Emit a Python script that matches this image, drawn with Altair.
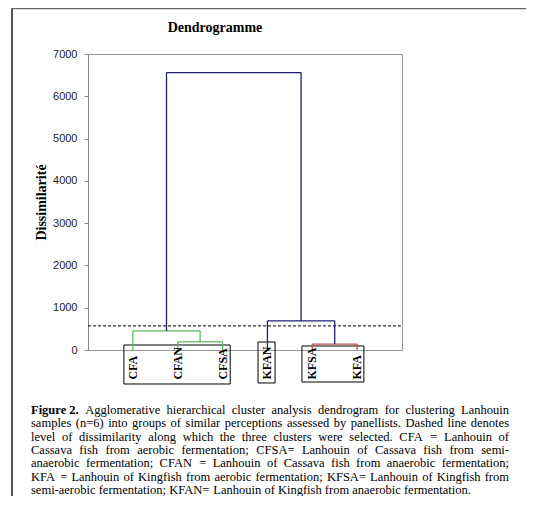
import altair as alt
import pandas as pd

# ---------------- data ----------------
leaf_names = ["CFA", "CFAN", "CFSA", "KFAN", "KFSA", "KFA"]
merge_a = ["CFAN", "CFA", "KFSA", "KFAN", "M2"]
merge_b = ["CFSA", "M1", "KFA", "M3", "M4"]
merge_height = [190, 450, 140, 690, 6560]
merge_color = ["#5BB85B", "#5BB85B", "#C0504D", "#1F1F6E", "#1F1F6E"]
cut_level = 570
y_ticks = [0, 1000, 2000, 3000, 4000, 5000, 6000, 7000]

box_start = [0.80, 3.79, 4.77]
box_end = [3.17, 4.17, 6.15]
box_top = [118, 189, 95]
box_bottom = [-804, -780, -757]
label_level = -700

caption_bold = "Figure 2."
caption_lines = [
    "Agglomerative hierarchical cluster analysis dendrogram for clustering Lanhouin",
    "samples (n=6) into groups of similar perceptions assessed by panellists. Dashed line denotes",
    "level of dissimilarity along which the three clusters were selected. CFA = Lanhouin of",
    "Cassava fish from aerobic fermentation; CFSA= Lanhouin of Cassava fish from semi-",
    "anaerobic fermentation; CFAN = Lanhouin of Cassava fish from anaerobic fermentation;",
    "KFA = Lanhouin of Kingfish from aerobic fermentation; KFSA= Lanhouin of Kingfish from",
    "semi-aerobic fermentation; KFAN= Lanhouin of Kingfish from anaerobic fermentation.",
]

# ---------------- layout constants ----------------
W, H = 314, 296
XMAX, YMAX = 7, 7000
CAP_FS = 12.5
CAP_LEFT, CAP_RIGHT = -57, 421      # plot-relative pixels
CAP_Y0, CAP_DY = 356, 13.33

# Times / Liberation Serif advance widths (1/1000 em)
TW = {" ": 250, "(": 333, ")": 333, ",": 250, "-": 333, ".": 250, ":": 278, ";": 278,
      "=": 564}
TW.update({d: 500 for d in "0123456789"})
TW.update(dict(zip("ABCDEFGHIJKLMNOPQRSTUVWXYZ",
                   [722, 667, 667, 722, 611, 556, 722, 722, 333, 389, 722, 611, 889,
                    722, 722, 556, 722, 667, 556, 611, 722, 722, 944, 722, 722, 611])))
TW.update(dict(zip("abcdefghijklmnopqrstuvwxyz",
                   [444, 500, 444, 500, 444, 333, 500, 500, 278, 278, 500, 278, 778,
                    500, 500, 500, 500, 333, 389, 278, 500, 500, 722, 500, 500, 444])))
TWB = {"F": 611, "i": 278, "g": 500, "u": 556, "r": 444, "e": 444, " ": 250,
       "2": 500, ".": 250}


def tw(s, bold=False):
    tab = TWB if bold else TW
    return sum(tab.get(ch, 500) for ch in s) * CAP_FS / 1000.0


def px_to_x(px):
    return px * XMAX / W


def py_to_y(py):
    return (H - py) * YMAX / H


words = []
for k, line in enumerate(caption_lines):
    toks = [(t, False) for t in line.split(" ")]
    if k == 0:
        toks = [(caption_bold, True)] + toks
    widths = [tw(t, b) for t, b in toks]
    if k < len(caption_lines) - 1:
        gap = (CAP_RIGHT - CAP_LEFT - sum(widths)) / (len(toks) - 1)
    else:
        gap = tw(" ")
    x = CAP_LEFT
    for (t, b), w in zip(toks, widths):
        words.append({"x": px_to_x(x), "y": py_to_y(CAP_Y0 + k * CAP_DY), "t": t, "b": b})
        x += w + gap
words_df = pd.DataFrame(words)

# ---------------- build dendrogram segments ----------------
pos = {n: (i + 1, 0) for i, n in enumerate(leaf_names)}
segs = []
for i, (a, b, h, c) in enumerate(zip(merge_a, merge_b, merge_height, merge_color)):
    xa, ha = pos[a]
    xb, hb = pos[b]
    segs.append({"x": xa, "x2": xb, "y": h, "y2": h, "c": c})
    segs.append({"x": xa, "x2": xa, "y": ha, "y2": h, "c": c})
    segs.append({"x": xb, "x2": xb, "y": hb, "y2": h, "c": c})
    pos[f"M{i + 1}"] = ((xa + xb) / 2, h)
seg_df = pd.DataFrame(segs)

xs = alt.Scale(domain=[0, XMAX])
ys = alt.Scale(domain=[0, YMAX])
YT = "Dissimilarité"

dendro = alt.Chart(seg_df).mark_rule(strokeWidth=1.3).encode(
    x=alt.X("x:Q", scale=xs, axis=None),
    x2="x2:Q",
    y=alt.Y("y:Q", scale=ys, title=YT,
            axis=alt.Axis(values=y_ticks, format="d", grid=False)),
    y2="y2:Q",
    color=alt.Color("c:N", scale=None),
)

cut_df = pd.DataFrame({"x": [0], "x2": [XMAX], "y": [cut_level]})
cut = alt.Chart(cut_df).mark_rule(color="black", strokeWidth=1, strokeDash=[3, 2]).encode(
    x=alt.X("x:Q", scale=xs, axis=None), x2="x2:Q",
    y=alt.Y("y:Q", scale=ys, title=YT),
)

box_df = pd.DataFrame({"x": box_start, "x2": box_end, "y": box_top, "y2": box_bottom})
boxes = alt.Chart(box_df).mark_rect(fill=None, stroke="black", strokeWidth=1).encode(
    x=alt.X("x:Q", scale=xs, axis=None), x2="x2:Q",
    y=alt.Y("y:Q", scale=ys, title=YT), y2="y2:Q",
)

lab_df = pd.DataFrame({"x": list(range(1, len(leaf_names) + 1)),
                       "y": [label_level] * len(leaf_names),
                       "t": leaf_names})
labels = alt.Chart(lab_df).mark_text(
    angle=270, align="left", baseline="middle", font="Liberation Serif",
    fontSize=12, fontWeight="bold", color="black",
).encode(
    x=alt.X("x:Q", scale=xs, axis=None),
    y=alt.Y("y:Q", scale=ys, title=YT),
    text="t:N",
)

cap_base = alt.Chart(words_df).encode(
    x=alt.X("x:Q", scale=xs, axis=None),
    y=alt.Y("y:Q", scale=ys, title=YT),
    text="t:N",
)
cap_bold = cap_base.transform_filter("datum.b").mark_text(
    align="left", baseline="middle", font="Liberation Serif", fontSize=CAP_FS,
    fontWeight="bold", color="black")
cap_reg = cap_base.transform_filter("!datum.b").mark_text(
    align="left", baseline="middle", font="Liberation Serif", fontSize=CAP_FS,
    color="black")

# outer figure frame (left and top edges)
one = pd.DataFrame({"a": [0]})
frame_left = alt.Chart(one).mark_rule(color="#555555", strokeWidth=2).encode(
    x=alt.value(-76), y=alt.value(-46), y2=alt.value(450))
frame_top = alt.Chart(one).mark_rule(color="#666666", strokeWidth=1.5).encode(
    x=alt.value(-77), x2=alt.value(450), y=alt.value(-45.5))

chart = alt.layer(
    frame_left, frame_top, cut, boxes, dendro, labels, cap_bold, cap_reg
).properties(
    width=W, height=H,
    title=alt.TitleParams("Dendrogramme", font="Liberation Serif", fontSize=14,
                          fontWeight="bold", anchor="middle", dx=-30, offset=-28,
                          frame="group", color="black"),
    autosize=alt.AutoSizeParams(type="none"),
    padding={"left": 80, "top": 46, "right": 124, "bottom": 146},
    background="white",
).configure_view(
    stroke="#999999", strokeWidth=1,
).configure_axisY(
    domainColor="#888888", tickColor="#888888", tickSize=4, labelPadding=7,
    labelFont="Liberation Sans", labelFontSize=11, labelColor="#222222",
    titleFont="Liberation Serif", titleFontSize=14, titleFontWeight="bold",
    titleColor="black", titlePadding=4,
)

chart.save("out.html", embed_options={"renderer": "svg", "actions": False})
